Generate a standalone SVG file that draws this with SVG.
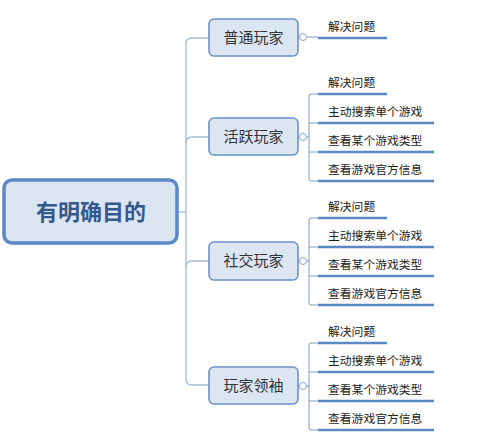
<svg xmlns="http://www.w3.org/2000/svg" width="500" height="437" viewBox="0 0 500 437">
<style>
.root{fill:#dce6f3;stroke:#5b88c6;stroke-width:3.5}
.rt{font-family:"Noto Sans CJK SC","Liberation Sans",sans-serif;font-size:22px;font-weight:bold;fill:#35598c;text-anchor:middle}
.box{fill:#dce6f3;stroke:#6a93c9;stroke-width:1.6}
.bt{font-family:"Noto Sans CJK SC","Liberation Sans",sans-serif;font-size:15px;fill:#333;text-anchor:middle}
.lt{font-family:"Noto Sans CJK SC","Liberation Sans",sans-serif;font-size:11.8px;fill:#222}
.trunk{fill:none;stroke:#a9bcd3;stroke-width:1.3}
.thin{fill:none;stroke:#7c9cc6;stroke-width:1}
.ul{stroke:#5b87c4;stroke-width:2.6}
.col{fill:#fff;stroke:#8aa6cc;stroke-width:1}
</style>
<g id="connectors">
<path class="trunk" d="M177 212 H186"/>
<path class="trunk" d="M209 38 H192 Q186 38 186 44 V379 Q186 385 192 385 H209"/>
<path class="trunk" d="M186 143 Q186 137 192 137 H209"/>
<path class="trunk" d="M186 267 Q186 261 192 261 H209"/>
<path class="thin" d="M298 37 H299.5"/>
<path class="thin" d="M306.5 37 H318"/>
<path class="thin" d="M298 137 H299.5 M306.5 137 H309 M318 94 H311 Q309 94 309 96 V179 Q309 181 311 181 H318 M309 123 H318 M309 152 H318"/>
<path class="thin" d="M298 261 H299.5 M306.5 261 H309 M318 218 H311 Q309 218 309 220 V303 Q309 305 311 305 H318 M309 247 H318 M309 276 H318"/>
<path class="thin" d="M298 386 H299.5 M306.5 386 H309 M318 343 H311 Q309 343 309 345 V428 Q309 430 311 430 H318 M309 372 H318 M309 401 H318"/>
</g>
<g id="root">
<rect class="root" x="4" y="180" width="173" height="63" rx="8"/>
<text class="rt" x="91" y="220">有明确目的</text>
</g>
<g id="n1">
<rect class="box" x="209" y="19" width="89" height="37" rx="5"/>
<text class="bt" x="253.5" y="43">普通玩家</text>
<circle class="col" cx="303" cy="37" r="3.5"/>
</g>
<g id="n2">
<rect class="box" x="209" y="118" width="89" height="37" rx="5"/>
<text class="bt" x="253.5" y="142">活跃玩家</text>
<circle class="col" cx="303" cy="137" r="3.5"/>
</g>
<g id="n3">
<rect class="box" x="209" y="242" width="89" height="38" rx="5"/>
<text class="bt" x="253.5" y="266">社交玩家</text>
<circle class="col" cx="303" cy="261" r="3.5"/>
</g>
<g id="n4">
<rect class="box" x="209" y="367" width="89" height="37" rx="5"/>
<text class="bt" x="253.5" y="391">玩家领袖</text>
<circle class="col" cx="303" cy="386" r="3.5"/>
</g>
<g id="l1"><text class="lt" x="328" y="31">解决问题</text><line class="ul" x1="318" y1="38" x2="387" y2="38"/></g>
<g id="l2a"><text class="lt" x="328" y="87">解决问题</text><line class="ul" x1="318" y1="94" x2="387" y2="94"/></g>
<g id="l2b"><text class="lt" x="328" y="116">主动搜索单个游戏</text><line class="ul" x1="318" y1="123" x2="434" y2="123"/></g>
<g id="l2c"><text class="lt" x="328" y="145">查看某个游戏类型</text><line class="ul" x1="318" y1="152" x2="434" y2="152"/></g>
<g id="l2d"><text class="lt" x="328" y="174">查看游戏官方信息</text><line class="ul" x1="318" y1="181" x2="434" y2="181"/></g>
<g id="l3a"><text class="lt" x="328" y="211">解决问题</text><line class="ul" x1="318" y1="218" x2="387" y2="218"/></g>
<g id="l3b"><text class="lt" x="328" y="240">主动搜索单个游戏</text><line class="ul" x1="318" y1="247" x2="434" y2="247"/></g>
<g id="l3c"><text class="lt" x="328" y="269">查看某个游戏类型</text><line class="ul" x1="318" y1="276" x2="434" y2="276"/></g>
<g id="l3d"><text class="lt" x="328" y="298">查看游戏官方信息</text><line class="ul" x1="318" y1="305" x2="434" y2="305"/></g>
<g id="l4a"><text class="lt" x="328" y="336">解决问题</text><line class="ul" x1="318" y1="343" x2="387" y2="343"/></g>
<g id="l4b"><text class="lt" x="328" y="365">主动搜索单个游戏</text><line class="ul" x1="318" y1="372" x2="434" y2="372"/></g>
<g id="l4c"><text class="lt" x="328" y="394">查看某个游戏类型</text><line class="ul" x1="318" y1="401" x2="434" y2="401"/></g>
<g id="l4d"><text class="lt" x="328" y="423">查看游戏官方信息</text><line class="ul" x1="318" y1="430" x2="434" y2="430"/></g>
</svg>
